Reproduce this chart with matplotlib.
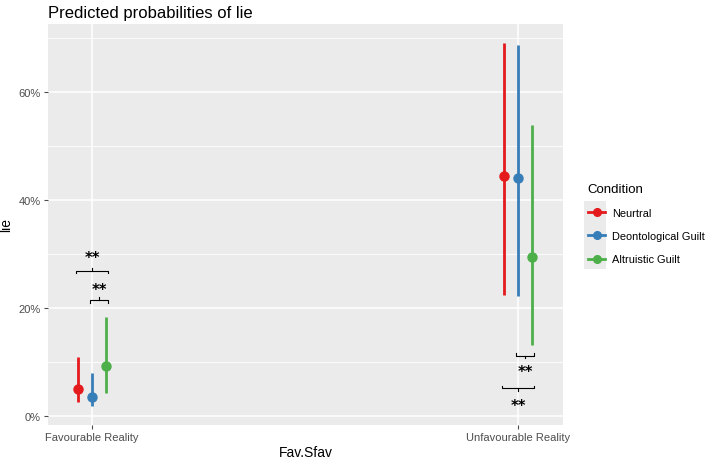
import matplotlib
matplotlib.use('Agg')
import matplotlib.pyplot as plt
from matplotlib.lines import Line2D
from matplotlib.patches import Rectangle

plt.rcParams['font.family'] = ['Liberation Sans', 'DejaVu Sans']

# data (percent)
realities = ['Favourable Reality', 'Unfavourable Reality']
conditions = ['Neurtral', 'Deontological Guilt', 'Altruistic Guilt']
colors = ['#E41A1C', '#377EB8', '#4DAF4A']

estimate = {
    'Neurtral': [5.0, 44.5],
    'Deontological Guilt': [3.6, 44.0],
    'Altruistic Guilt': [9.2, 29.5],
}
lower = {
    'Neurtral': [2.5, 22.4],
    'Deontological Guilt': [1.8, 22.3],
    'Altruistic Guilt': [4.3, 13.1],
}
upper = {
    'Neurtral': [11.0, 69.1],
    'Deontological Guilt': [8.0, 68.8],
    'Altruistic Guilt': [18.4, 53.9],
}

# significance brackets: (reality index, cond from, cond to, bracket y, label y, opens down?)
brackets = [
    (0, 0, 2, 26.9, 29.4, True),
    (0, 1, 2, 21.5, 23.4, True),
    (1, 1, 2, 11.2, 8.2, False),
    (1, 0, 2, 5.1, 1.9, False),
]
sig_label = '**'

dodge = [-0.034, 0.0, 0.034]


def main():
    fig = plt.figure(figsize=(7.09, 4.6), dpi=100)
    ax = fig.add_axes([48 / 709, 1 - 426 / 460, (563 - 48) / 709, (426 - 25) / 460])
    ax.set_facecolor('#EBEBEB')

    # grid
    for v in [10, 30, 50, 70]:
        ax.axhline(v, color='white', lw=0.6, zorder=0)
    for v in [0, 20, 40, 60]:
        ax.axhline(v, color='white', lw=1.1, zorder=0)
    for i in range(len(realities)):
        ax.axvline(i + 1, color='white', lw=1.1, zorder=0)

    for k, cond in enumerate(conditions):
        for i in range(len(realities)):
            x = i + 1 + dodge[k]
            ax.plot([x, x], [lower[cond][i], upper[cond][i]], color=colors[k],
                    lw=2, solid_capstyle='butt', zorder=2)
            ax.plot(x, estimate[cond][i], 'o', color=colors[k], ms=6.5, zorder=3)

    tick = 0.5
    for ri, c1, c2, by, ly, down in brackets:
        x1 = ri + 1 + dodge[c1] - 0.004
        x2 = ri + 1 + dodge[c2] + 0.004
        xm = (x1 + x2) / 2
        s = -1 if down else 1
        ax.plot([x1, x1, x2, x2], [by + s * tick, by, by, by + s * tick],
                color='black', lw=0.8, zorder=4)
        ax.plot([xm, xm], [by, by - s * tick], color='black', lw=0.8, zorder=4)
        ax.text(xm, ly, sig_label, ha='center', va='center', fontsize=10.5,
                fontweight='bold', family='DejaVu Sans', zorder=4)

    ax.set_xlim(1 - 44 / 426, 2 + 45 / 426)
    ax.set_ylim(-1.67, 72.6)
    ax.set_xticks([1, 2])
    ax.set_xticklabels(realities)
    ax.set_yticks([0, 20, 40, 60])
    ax.set_yticklabels(['0%', '20%', '40%', '60%'])
    ax.tick_params(colors='#4D4D4D', labelsize=8, length=3, width=0.8, pad=2)
    for sp in ax.spines.values():
        sp.set_visible(False)

    ax.set_xlabel('Fav.Sfav', fontsize=10, labelpad=2)
    ax.set_ylabel('lie', fontsize=10, labelpad=4)
    ax.set_title('Predicted probabilities of lie', fontsize=12, loc='left', pad=5)

    # legend
    fig.patches.append(Rectangle((584 / 709, 1 - 270 / 460), 22 / 709, 68 / 460,
                                 transform=fig.transFigure, facecolor='#EBEBEB',
                                 edgecolor='none', zorder=0))
    handles = [Line2D([0], [0], color=c, lw=2, marker='o', ms=5.5) for c in colors]
    fig.legend(handles, conditions, title='Condition', loc='upper left',
               bbox_to_anchor=(578 / 709, 1 - 174 / 460), frameon=False,
               fontsize=7.9, title_fontsize=9.5, handlelength=1.6,
               labelspacing=1.2, handletextpad=0.6, alignment='left')

    fig.savefig('out.png', dpi=100)


if __name__ == '__main__':
    main()
